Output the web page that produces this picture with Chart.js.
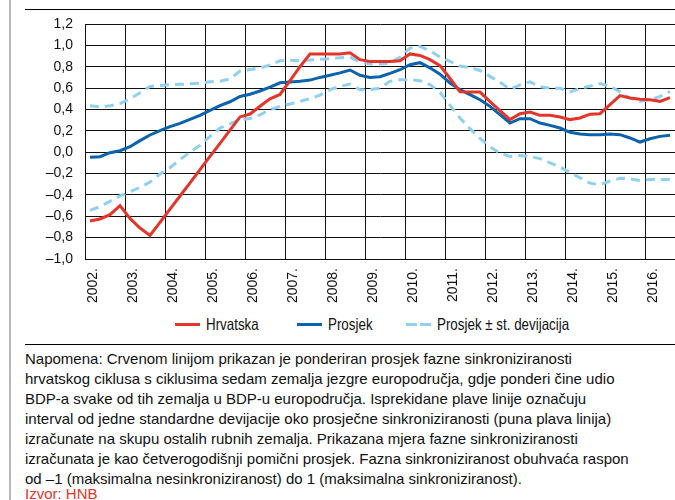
<!DOCTYPE html>
<html>
<head>
<meta charset="utf-8">
<script src="https://cdn.jsdelivr.net/npm/chart.js@4.4.1/dist/chart.umd.min.js"></script>
<style>
  body { margin: 0; width: 675px; height: 500px; overflow: hidden; background: #fff; position: relative;
         font-family: "Liberation Sans", Arial, sans-serif; color: #111; }
  .frame-left { position: absolute; left: 9px; top: 0; width: 2px; height: 500px; background: #b8b8b8; }
  .rule { position: absolute; left: 25px; width: 650px; height: 1px; background: #000; }
  #chartBox { position: absolute; left: 0; top: 0; width: 675px; height: 305px; }
  #legend .item { position: absolute; top: 314px; height: 20px; }
  #legend .swatch { position: absolute; left: 0; top: 9px; width: 25px; height: 3px; }
  #legend .txt { position: absolute; left: 31px; top: 0; line-height: 20px; font-size: 16.5px; white-space: nowrap;
                 display: inline-block; transform: scaleX(0.81); transform-origin: left center; }
  #note { position: absolute; left: 25px; top: 349px; font-size: 15px; line-height: 20px; white-space: nowrap; }
  #source { position: absolute; left: 25px; top: 485px; font-size: 15px; line-height: 18px; color: #e5352b; }
</style>
</head>
<body>
<div class="frame-left"></div>
<div class="rule" style="top:9px"></div>
<div id="chartBox"><canvas id="chartSinkro"></canvas></div>
<div id="legend"></div>
<div class="rule" style="top:344px"></div>
<div id="note">Napomena: Crvenom linijom prikazan je ponderiran prosjek fazne sinkroniziranosti<br>hrvatskog ciklusa s ciklusima sedam zemalja jezgre europodručja, gdje ponderi čine udio<br>BDP-a svake od tih zemalja u BDP-u europodručja. Isprekidane plave linije označuju<br>interval od jedne standardne devijacije oko prosječne sinkroniziranosti (puna plava linija)<br>izračunate na skupu ostalih rubnih zemalja. Prikazana mjera fazne sinkroniziranosti<br>izračunata je kao četverogodišnji pomični prosjek. Fazna sinkroniziranost obuhvaća raspon<br>od –1 (maksimalna nesinkroniziranost) do 1 (maksimalna sinkroniziranost).</div>
<div id="source">Izvor: HNB</div>
<script>
(() => {

    // ================================
    // Data (quarterly, 2002 Q1 – 2016 Q3)
    // ================================
    const years = [2002, 2003, 2004, 2005, 2006, 2007, 2008, 2009, 2010, 2011, 2012, 2013, 2014, 2015, 2016];
    const yTicks = [-1.0, -0.8, -0.6, -0.4, -0.2, 0.0, 0.2, 0.4, 0.6, 0.8, 1.0, 1.2];

    const hrvatska = [
        -0.645, -0.625, -0.585, -0.50,
        -0.62, -0.71, -0.78, -0.657,
        -0.533, -0.41, -0.287, -0.163,
        -0.04, 0.083, 0.207, 0.33,
        0.357, 0.43, 0.50, 0.54,
        0.67, 0.80, 0.92, 0.92,
        0.92, 0.92, 0.93, 0.866,
        0.85, 0.85, 0.85, 0.855,
        0.92, 0.906, 0.866, 0.81,
        0.69, 0.565, 0.563, 0.563,
        0.474, 0.39, 0.305, 0.36,
        0.376, 0.345, 0.345, 0.33,
        0.305, 0.32, 0.356, 0.36,
        0.445, 0.53, 0.507, 0.495,
        0.49, 0.476, 0.51
    ];

    const prosjek = [
        -0.048, -0.042, -0.005, 0.014,
        0.051, 0.108, 0.161, 0.201,
        0.239, 0.27, 0.307, 0.345,
        0.392, 0.435, 0.472, 0.522,
        0.543, 0.573, 0.61, 0.65,
        0.658, 0.665, 0.675, 0.70,
        0.72, 0.742, 0.769, 0.72,
        0.70, 0.707, 0.738, 0.772,
        0.819, 0.838, 0.79, 0.73,
        0.648, 0.585, 0.538, 0.491,
        0.429, 0.351, 0.273, 0.314,
        0.314, 0.273, 0.251, 0.226,
        0.186, 0.17, 0.164, 0.164,
        0.17, 0.164, 0.133, 0.095,
        0.126, 0.148, 0.158
    ];

    const gornja = [
        0.435, 0.423, 0.435, 0.455,
        0.50, 0.557, 0.615, 0.625,
        0.632, 0.635, 0.64, 0.646,
        0.66, 0.665, 0.685, 0.76,
        0.774, 0.787, 0.818, 0.856,
        0.86, 0.856, 0.862, 0.87,
        0.876, 0.885, 0.89, 0.844,
        0.826, 0.826, 0.835, 0.888,
        0.975, 0.99, 0.95, 0.89,
        0.85, 0.806, 0.792, 0.765,
        0.71, 0.655, 0.59, 0.63,
        0.658, 0.612, 0.599, 0.598,
        0.565, 0.596, 0.618, 0.643,
        0.618, 0.565, 0.506, 0.475,
        0.49, 0.522, 0.568
    ];

    const donja = [
        -0.545, -0.51, -0.46, -0.41,
        -0.37, -0.33, -0.28, -0.205,
        -0.145, -0.07, 0.0, 0.065,
        0.148, 0.226, 0.264, 0.304,
        0.315, 0.35, 0.398, 0.429,
        0.451, 0.476, 0.50, 0.535,
        0.585, 0.616, 0.638, 0.585,
        0.585, 0.60, 0.663, 0.679,
        0.679, 0.669, 0.632, 0.56,
        0.44, 0.32, 0.22, 0.13,
        0.05, -0.01, -0.04, -0.03,
        -0.04, -0.06, -0.10, -0.14,
        -0.19, -0.24, -0.29, -0.305,
        -0.27, -0.245, -0.25, -0.265,
        -0.255, -0.255, -0.255
    ];

    const legendLabels = ['Hrvatska', 'Prosjek', 'Prosjek ± st. devijacija'];

    // ================================
    // Colours
    // ================================
    const colors = {
        hr: '#e5352b',
        avg: '#0b62ad',
        sd: '#90d1f3'
    };

    // quarter midpoints on a year axis
    const toPoints = arr => arr.map((v, i) => ({ x: years[0] + (i + 0.5) / 4, y: v }));

    const fmtY = v => {
        const s = Math.abs(v).toFixed(1).replace('.', ',');
        return v < -0.001 ? '–' + s : s;
    };

    const line = (label, data, color, dash, order) => ({
        label: label,
        data: toPoints(data),
        borderColor: color,
        backgroundColor: color,
        borderWidth: 3,
        borderDash: dash,
        pointRadius: 0,
        tension: 0,
        fill: false,
        order: order
    });

    const ctx = document.getElementById('chartSinkro');
    new Chart(ctx, {
        type: 'line',
        data: {
            datasets: [
                line(legendLabels[0], hrvatska, colors.hr, [], 0),
                line(legendLabels[1], prosjek, colors.avg, [], 1),
                line(legendLabels[2], gornja, colors.sd, [9, 6], 2),
                line(legendLabels[2], donja, colors.sd, [9, 6], 3)
            ]
        },
        options: {
            responsive: true,
            maintainAspectRatio: false,
            animation: false,
            layout: { padding: { top: 24, right: 0, left: 0, bottom: 0 } },
            plugins: { legend: { display: false }, tooltip: { enabled: false } },
            scales: {
                x: {
                    type: 'linear',
                    min: years[0],
                    max: 2016.75,
                    afterBuildTicks: s => { s.ticks = years.map(v => ({ value: v })); },
                    afterFit: s => { s.height = 46; },
                    grid: { color: '#111', lineWidth: 1, drawTicks: false },
                    border: { color: '#111', width: 1 },
                    ticks: {
                        minRotation: 90,
                        maxRotation: 90,
                        padding: 9,
                        labelOffset: 8,
                        color: '#111',
                        font: { family: '"Liberation Sans", Arial, sans-serif', size: 14 },
                        callback: v => v + '.'
                    }
                },
                y: {
                    min: yTicks[0],
                    max: yTicks[yTicks.length - 1],
                    afterBuildTicks: s => { s.ticks = yTicks.map(v => ({ value: v })); },
                    afterFit: s => { s.width = 85; },
                    grid: { color: '#111', lineWidth: 1, drawTicks: false },
                    border: { color: '#111', width: 1 },
                    ticks: {
                        padding: 12,
                        color: '#111',
                        font: { family: '"Liberation Sans", Arial, sans-serif', size: 14 },
                        callback: v => fmtY(v)
                    }
                }
            }
        }
    });

    // ================================
    // Legend
    // ================================
    const legendColors = [colors.hr, colors.avg, colors.sd];
    const legendLeft = [175, 297, 406];
    const legendEl = document.getElementById('legend');
    legendLabels.forEach((lbl, i) => {
        const item = document.createElement('div');
        item.className = 'item';
        item.style.left = legendLeft[i] + 'px';
        const sw = document.createElement('span');
        sw.className = 'swatch';
        const c = legendColors[i];
        sw.style.background = i === 2
            ? `linear-gradient(to right, ${c} 0 11px, transparent 11px 14px, ${c} 14px 25px)`
            : c;
        const tx = document.createElement('span');
        tx.className = 'txt';
        tx.textContent = lbl;
        item.appendChild(sw);
        item.appendChild(tx);
        legendEl.appendChild(item);
    });

})();
</script>
</body>
</html>
